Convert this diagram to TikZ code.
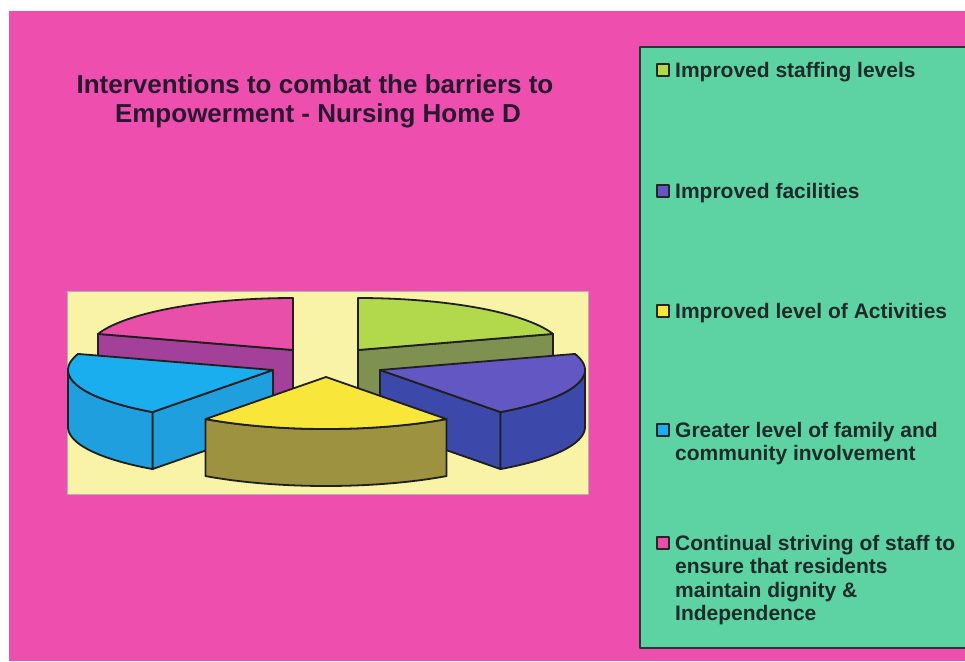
\documentclass[tikz,border=0pt]{standalone}
\usepackage{fontspec}
\setmainfont{Liberation Sans}
\definecolor{bgmag}{HTML}{EE4FAE}
\definecolor{chartbg}{HTML}{F8F3A6}
\definecolor{leggreen}{HTML}{5DD3A3}
\definecolor{legborder}{HTML}{1E3B36}
\definecolor{titlecol}{HTML}{2A1830}
\definecolor{legtext}{HTML}{1F2A2A}
\definecolor{pinktop}{HTML}{E84FA8}
\definecolor{pinkside}{HTML}{A3409A}
\definecolor{greentop}{HTML}{B2D94B}
\definecolor{greenside}{HTML}{7E9150}
\definecolor{cyantop}{HTML}{1BAEEF}
\definecolor{cyanside}{HTML}{1F9FDD}
\definecolor{purptop}{HTML}{6357C3}
\definecolor{purpside}{HTML}{3C48AA}
\definecolor{yeltop}{HTML}{F9E63A}
\definecolor{yelside}{HTML}{9C9240}
\def\prx{205}
\def\pry{52}
\def\ph{57}
\newcommand{\radface}[4]{%
  \filldraw[fill=#4, pieline] ({#1},{#2}) -- ({#1+\prx*sin(#3)},{#2-\pry*cos(#3)}) -- ({#1+\prx*sin(#3)},{#2+\ph-\pry*cos(#3)}) -- ({#1},{#2+\ph}) -- cycle;}
\newcommand{\outface}[5]{%
  \filldraw[fill=#5, pieline] plot[domain=#3:#4,samples=40] ({#1+\prx*sin(\x)},{#2-\pry*cos(\x)}) -- plot[domain=#4:#3,samples=40] ({#1+\prx*sin(\x)},{#2+\ph-\pry*cos(\x)}) -- cycle;}
\newcommand{\topface}[5]{%
  \filldraw[fill=#5, pieline] ({#1},{#2}) -- plot[domain=#3:#4,samples=40] ({#1+\prx*sin(\x)},{#2-\pry*cos(\x)}) -- cycle;}
\begin{document}
\begin{tikzpicture}[x=1pt,y=-1pt, line join=round,
  pieline/.style={draw=black!88, line width=1.8pt},
  titletext/.style={anchor=base, inner sep=0pt, text=titlecol, font=\fontsize{26}{29}\selectfont\bfseries},
  legtxt/.style={anchor=base west, inner sep=0pt, text=legtext, font=\fontsize{21}{23}\selectfont\bfseries},
  legsq/.style={draw=black!85, line width=1.8pt, minimum size=11.5pt, inner sep=0pt}]
\useasboundingbox (0,0) rectangle (965,661);
\fill[white] (0,0) rectangle (965,661);
\fill[bgmag] (9,11) rectangle (965,661);
% title
\node[titletext] (t1) at (315,93) {Interventions to combat the barriers to};
\node[titletext] (t2) at (318,122) {Empowerment - Nursing Home D};
% chart area
\filldraw[fill=chartbg, draw=black!30, line width=0.8pt] (67,291) rectangle (588,494);
% pink slice (288-360)
\radface{293}{350}{288}{pinkside}
\topface{293}{350}{288}{360}{pinktop}
% green slice (0-72)
\radface{358}{350}{72}{greenside}
\topface{358}{350}{0}{72}{greentop}
% cyan slice (216-288)
\radface{273}{370}{216}{cyanside}
\outface{273}{370}{216}{270}{cyanside}
\topface{273}{370}{216}{288}{cyantop}
% purple slice (72-144)
\radface{380}{370}{144}{purpside}
\outface{380}{370}{90}{144}{purpside}
\topface{380}{370}{72}{144}{purptop}
% yellow slice (144-216)
\outface{326}{377}{144}{216}{yelside}
\topface{326}{377}{144}{216}{yeltop}
% legend box
\fill[leggreen] (640,47) rectangle (966,648);
\draw[legborder, line width=2.4pt] (966,47) -- (640,47) -- (640,648) -- (966,648);
% legend entries
\node[legsq, fill=greentop] (s1) at (663,70) {};
\node[legtxt] (l1) at (675,77) {Improved staffing levels};
\node[legsq, fill=purptop] (s2) at (663,191) {};
\node[legtxt] (l2) at (675,198) {Improved facilities};
\node[legsq, fill=yeltop] (s3) at (663,311) {};
\node[legtxt] (l3) at (675,318) {Improved level of Activities};
\node[legsq, fill=cyantop] (s4) at (663,430) {};
\node[legtxt] (l4a) at (675,437) {Greater level of family and};
\node[legtxt] (l4b) at (675,460) {community involvement};
\node[legsq, fill=pinktop] (s5) at (663,543) {};
\node[legtxt] (l5a) at (675,550) {Continual striving of staff to};
\node[legtxt] (l5b) at (675,573) {ensure that residents};
\node[legtxt] (l5c) at (675,597) {maintain dignity \&};
\node[legtxt] (l5d) at (675,620) {Independence};
\end{tikzpicture}
\end{document}
